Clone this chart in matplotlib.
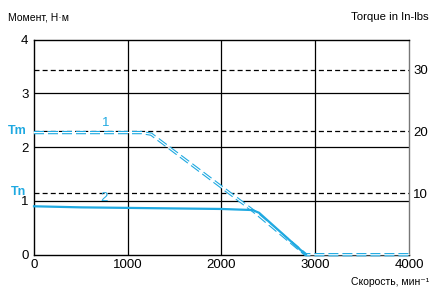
import matplotlib
matplotlib.use("Agg")
import matplotlib.pyplot as plt
import numpy as np

plt.rcParams['font.family'] = ['Liberation Sans', 'DejaVu Sans']

BLUE = "#1fa9e1"

# curve 1 (max torque, dashed double line)
speed1 = [0, 1150, 1250, 2350, 2900, 4000]
torque1 = [2.27, 2.27, 2.24, 0.80, 0.0, 0.0]

# curve 2 (nominal torque)
speed2 = [0, 500, 1000, 1500, 2000, 2330, 2400, 2900]
torque2 = [0.90, 0.88, 0.87, 0.86, 0.85, 0.83, 0.78, 0.0]

x_ticks = [0, 1000, 2000, 3000, 4000]
y_ticks = [0, 1, 2, 3, 4]
inlbs_ticks = [10, 20, 30]
NM_PER_INLB = 0.1145

fig = plt.figure(figsize=(4.31, 2.88), dpi=100)
ax = fig.add_axes([34 / 431, 1 - 254.7 / 288, (409 - 34) / 431, (254.7 - 39.5) / 288])

ax.set_xlim(0, 4000)
ax.set_ylim(0, 4)

# grid
for x in x_ticks[1:-1]:
    ax.axvline(x, color="black", lw=0.9, zorder=1)
for y in y_ticks[1:-1]:
    ax.axhline(y, color="black", lw=0.9, zorder=1)
for v in inlbs_ticks:
    ax.axhline(v * NM_PER_INLB, color="black", lw=0.9, ls=(0, (4, 2.5)), zorder=1)

# curve 1: double dashed line
ax.plot(speed1, torque1, color=BLUE, lw=2.4, ls=(0, (3, 1.2)), zorder=3, clip_on=False)
ax.plot(speed1, torque1, color="white", lw=0.8, zorder=4, clip_on=False)

# curve 2
ax.plot(speed2, torque2, color=BLUE, lw=1.6, zorder=5, clip_on=False)

ax.text(770, 2.45, "1", color=BLUE, fontsize=9.5, ha="center", va="center", zorder=10)
ax.text(750, 1.06, "2", color=BLUE, fontsize=9.5, ha="center", va="center", zorder=10)

ax.set_xticks(x_ticks)
ax.set_yticks(y_ticks)
ax.tick_params(axis="x", length=0, labelsize=9.5, pad=3)
ax.tick_params(axis="y", length=0, labelsize=9.5, pad=4)
for s in ax.spines.values():
    s.set_linewidth(1.0)
ax.spines["right"].set_color("#777777")

sec = ax.secondary_yaxis("right", functions=(lambda v: v / NM_PER_INLB, lambda v: v * NM_PER_INLB))
sec.set_yticks(inlbs_ticks)
sec.tick_params(length=0, labelsize=9.5, pad=3)
sec.spines["right"].set_visible(False)

# Tm / Tn labels
ax.text(-0.02, 20 * NM_PER_INLB, "Tm", color=BLUE, fontsize=9, fontweight="bold",
        ha="right", va="center", transform=ax.get_yaxis_transform())
ax.text(-0.02, 10 * NM_PER_INLB + 0.02, "Tn", color=BLUE, fontsize=9, fontweight="bold",
        ha="right", va="center", transform=ax.get_yaxis_transform())

narrow = ['Liberation Sans Narrow', 'Liberation Sans', 'DejaVu Sans']
fig.text(8 / 431, 1 - 17 / 288, "Момент, Н·м", fontsize=7.5, family=narrow, ha="left", va="center")
fig.text(429 / 431, 1 - 17 / 288, "Torque in In-lbs", fontsize=8.2, ha="right", va="center")
fig.text(429 / 431, 1 / 288, "Скорость, мин⁻¹", fontsize=7.5, family=narrow,
         ha="right", va="bottom")

fig.savefig("out.png", dpi=100)
